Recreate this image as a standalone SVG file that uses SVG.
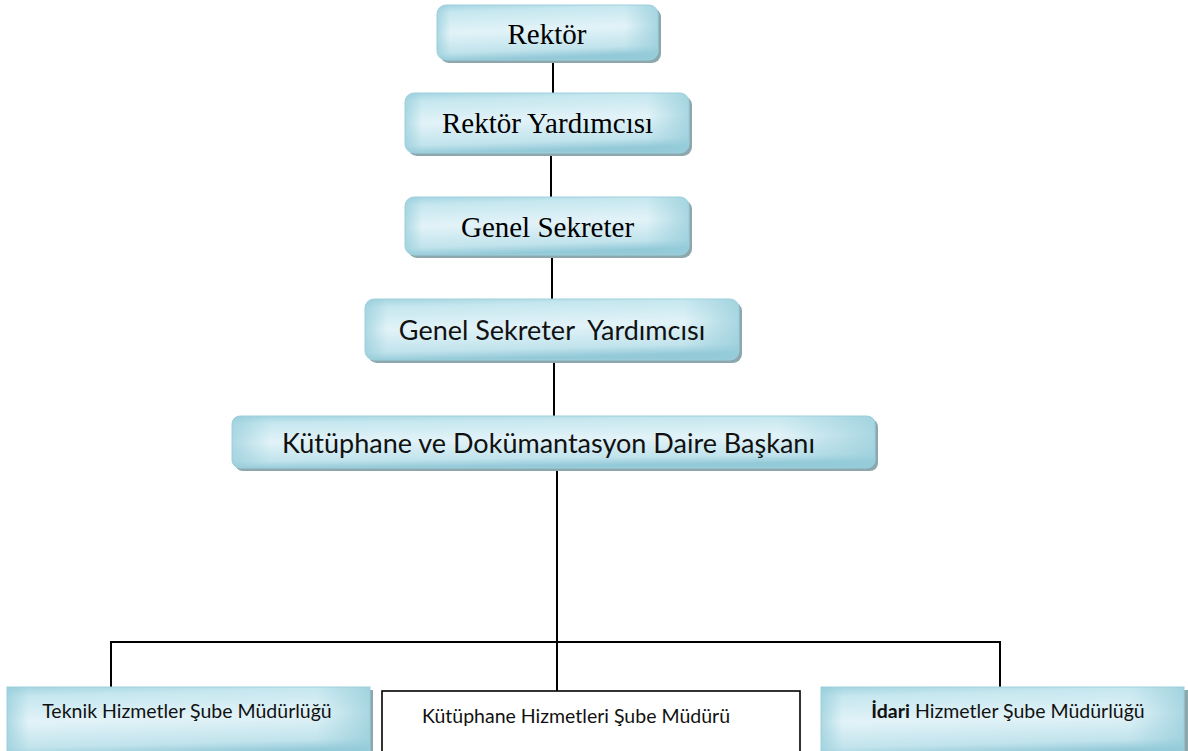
<svg xmlns="http://www.w3.org/2000/svg" width="1188" height="751" viewBox="0 0 1188 751">
  <defs>
    <linearGradient id="gv" x1="0" y1="0" x2="0.15" y2="1">
      <stop offset="0" stop-color="#a3d4e0"/>
      <stop offset="0.14" stop-color="#c6e7ef"/>
      <stop offset="0.5" stop-color="#e2f3f8"/>
      <stop offset="0.86" stop-color="#c1e3ec"/>
      <stop offset="1" stop-color="#94cad8"/>
    </linearGradient>
    <linearGradient id="gh" x1="0" y1="0" x2="1" y2="0">
      <stop offset="0" stop-color="#96cdda" stop-opacity="0.7"/>
      <stop offset="0.06" stop-color="#96cdda" stop-opacity="0"/>
      <stop offset="0.85" stop-color="#96cdda" stop-opacity="0"/>
      <stop offset="1" stop-color="#96cdda" stop-opacity="0.75"/>
    </linearGradient>
  </defs>
  <style>
    .shadow { fill: #8ca7ae; }
    .box { fill: url(#gv); stroke: #9fd1dd; stroke-width: 1; }
    .edge { fill: url(#gh); stroke: none; }
    .plain { fill: #ffffff; stroke: #000000; stroke-width: 1.6; }
    .serif { font-family: "Liberation Serif", "Times New Roman", serif; font-size: 29px; fill: #000; text-anchor: middle; }
    .sans { font-family: Lato, "Noto Sans", sans-serif; fill: #111; }
    .big { font-size: 27px; text-anchor: middle; }
    .small { font-size: 19.5px; }
    .conn { stroke: #000; stroke-width: 2; fill: none; }
  </style>
  <rect width="1188" height="751" fill="#ffffff"/>

  <g id="connectors">
    <line class="conn" x1="553" y1="62" x2="553" y2="93"/>
    <line class="conn" x1="551" y1="155" x2="551" y2="197"/>
    <line class="conn" x1="552" y1="258" x2="552" y2="299"/>
    <line class="conn" x1="554" y1="363" x2="554" y2="416"/>
    <line class="conn" x1="557" y1="470" x2="557" y2="691"/>
    <polyline class="conn" points="111,687 111,642 1000,642 1000,687"/>
  </g>

  <g id="rektor">
    <rect class="shadow" x="440" y="8" width="221" height="55" rx="9"/>
    <rect class="box" x="437" y="5" width="221" height="55" rx="9"/>
    <rect class="edge" x="437" y="5" width="221" height="55" rx="9"/>
    <text class="serif" x="547" y="44">Rektör</text>
  </g>

  <g id="rektor-yardimcisi">
    <rect class="shadow" x="408" y="96" width="284" height="60" rx="9"/>
    <rect class="box" x="405" y="93" width="284" height="60" rx="9"/>
    <rect class="edge" x="405" y="93" width="284" height="60" rx="9"/>
    <text class="serif" x="547.5" y="133">Rektör Yardımcısı</text>
  </g>

  <g id="genel-sekreter">
    <rect class="shadow" x="408" y="200" width="284" height="58" rx="9"/>
    <rect class="box" x="405" y="197" width="284" height="58" rx="9"/>
    <rect class="edge" x="405" y="197" width="284" height="58" rx="9"/>
    <text class="serif" x="547.5" y="237">Genel Sekreter</text>
  </g>

  <g id="genel-sekreter-yardimcisi">
    <rect class="shadow" x="368" y="302" width="374" height="61" rx="9"/>
    <rect class="box" x="365" y="299" width="374" height="61" rx="9"/>
    <rect class="edge" x="365" y="299" width="374" height="61" rx="9"/>
    <text class="sans big" x="552" y="340" xml:space="preserve">Genel Sekreter  Yardımcısı</text>
  </g>

  <g id="daire-baskani">
    <rect class="shadow" x="235" y="419" width="643" height="52" rx="8"/>
    <rect class="box" x="232" y="416" width="643" height="52" rx="8"/>
    <rect class="edge" x="232" y="416" width="643" height="52" rx="8"/>
    <text class="sans big" x="548.5" y="453" font-size="27.6">Kütüphane ve Dokümantasyon Daire Başkanı</text>
  </g>

  <g id="teknik-hizmetler">
    <rect class="shadow" x="10" y="690" width="363" height="70"/>
    <rect class="box" x="7" y="687" width="363" height="70"/>
    <rect class="edge" x="7" y="687" width="363" height="70"/>
    <text class="sans small" x="187" y="718" text-anchor="middle">Teknik Hizmetler Şube Müdürlüğü</text>
  </g>

  <g id="kutuphane-hizmetleri">
    <rect class="plain" x="382" y="691" width="418" height="80"/>
    <text class="sans small" x="422" y="723" font-size="18.3">Kütüphane Hizmetleri Şube Müdürü</text>
  </g>

  <g id="idari-hizmetler">
    <rect class="shadow" x="824" y="690" width="364" height="70"/>
    <rect class="box" x="821" y="687" width="363" height="70"/>
    <rect class="edge" x="821" y="687" width="363" height="70"/>
    <text class="sans small" x="1008" y="718" text-anchor="middle" font-size="20"><tspan font-weight="bold">İdari</tspan> Hizmetler Şube Müdürlüğü</text>
  </g>
</svg>
